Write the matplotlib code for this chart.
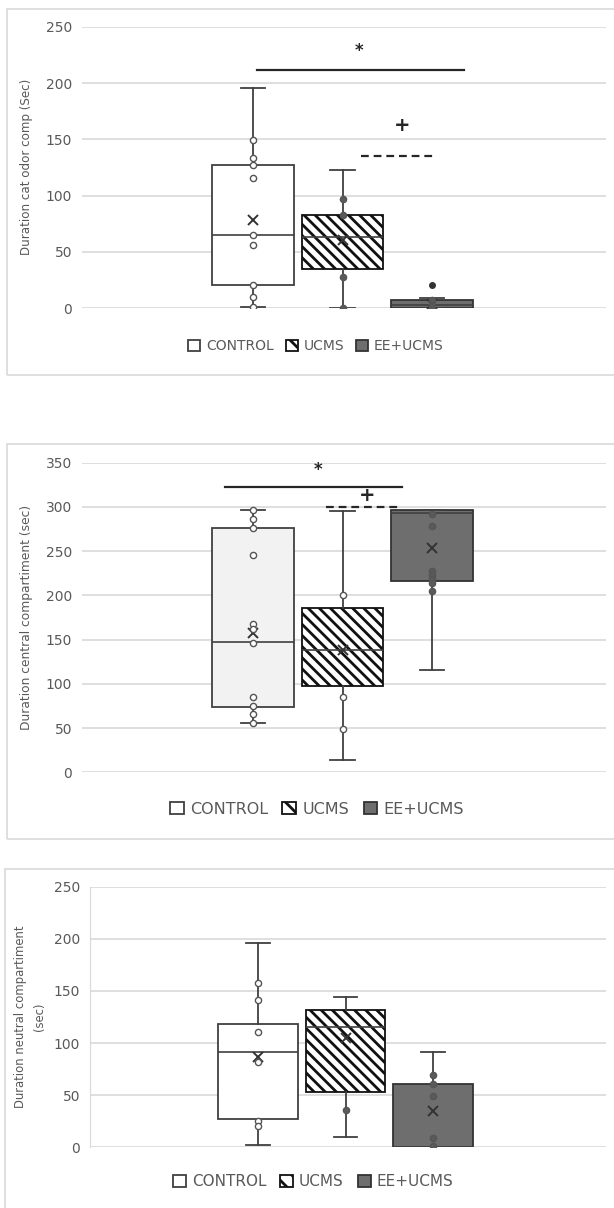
import matplotlib
matplotlib.use('Agg')
import matplotlib.pyplot as plt
from matplotlib.patches import Patch, Rectangle

plt.rcParams['font.family'] = ['DejaVu Sans']
plt.rcParams['hatch.linewidth'] = 2.0

# ---------------- data ----------------
groups = ['CONTROL', 'UCMS', 'EE+UCMS']

# Panel 1: Duration cat odor comp (Sec)
p1_whislo = [1, 0, 0]
p1_q1 = [21, 35, 0]
p1_med = [65, 63, 3]
p1_q3 = [127, 83, 7]
p1_whishi = [196, 123, 9]
p1_mean = [78, 61, 4]
p1_points = [[149, 133, 127, 116, 65, 56, 21, 10, 1], [97, 83, 28, 0], [7, 3, 0]]
p1_fliers = [[], [], [21]]

# Panel 2: Duration central compartiment (sec)
p2_whislo = [56, 14, 116]
p2_q1 = [74, 97, 216]
p2_med = [147, 138, 293]
p2_q3 = [276, 186, 296]
p2_whishi = [297, 295, 296]
p2_mean = [157, 138, 254]
p2_points = [[296, 286, 276, 246, 168, 162, 146, 85, 75, 66, 56],
             [201, 85, 49],
             [292, 279, 228, 223, 218, 214, 205]]
p2_fliers = [[], [], []]

# Panel 3: Duration neutral compartiment (sec)
p3_whislo = [2, 10, 0]
p3_q1 = [27, 53, 0]
p3_med = [91, 115, 0]
p3_q3 = [118, 132, 61]
p3_whishi = [196, 144, 91]
p3_mean = [87, 105, 35]
p3_points = [[158, 141, 111, 82, 25, 20], [36], [69, 61, 49, 9, 1]]
p3_fliers = [[], [], []]

# significance marks: (x0, x1, y, style)  and  (x, y, text)
p1_sig_lines = [(1.04, 3.36, 212, 'solid'), (2.21, 3.03, 135, 'dashed')]
p1_sig_text = [(2.18, 228, '*'), (2.67, 162, '+')]
p2_sig_lines = [(0.69, 2.67, 323, 'solid'), (1.82, 2.67, 300, 'dashed')]
p2_sig_text = [(1.73, 342, '*'), (2.28, 313, '+')]

# ---------------- styling ----------------
W, H = 614, 1208
GRID = '#d9d9d9'
TXT = '#595959'
EDGE = '#404040'
DARK = '#6e6e6e'

fig = plt.figure(figsize=(W / 100, H / 100), dpi=100)


def ax_at(x0, x1, ytop, ybot):
    return fig.add_axes([x0 / W, 1 - ybot / H, (x1 - x0) / W, (ybot - ytop) / H])


def frame(x0, y0, x1, y1):
    fig.add_artist(Rectangle((x0 / W, 1 - y1 / H), (x1 - x0) / W, (y1 - y0) / H,
                             transform=fig.transFigure, fill=False,
                             edgecolor=GRID, lw=1.2))


def panel(ax, whislo, q1, med, q3, whishi, mean, points, fliers,
          ymax, control_fill, ucms_pt_fill, xlim, left_spine=False):
    stats = []
    for i in range(3):
        stats.append(dict(whislo=whislo[i], q1=q1[i], med=med[i], q3=q3[i],
                          whishi=whishi[i], mean=mean[i], fliers=fliers[i],
                          label=groups[i]))
    pos = [1, 2, 3]
    bp = ax.bxp(stats, positions=pos, widths=0.91, capwidths=0.27,
                patch_artist=True, showmeans=True, showfliers=True,
                boxprops=dict(linewidth=1.3),
                whiskerprops=dict(color=EDGE, linewidth=1.3),
                capprops=dict(color=EDGE, linewidth=1.3),
                medianprops=dict(color=EDGE, linewidth=1.2),
                meanprops=dict(marker='x', markeredgecolor='#333333',
                               markersize=7, markeredgewidth=1.4),
                flierprops=dict(marker='o', markerfacecolor='#333333',
                                markeredgecolor='#333333', markersize=4),
                zorder=2)
    boxes = bp['boxes']
    boxes[0].set_facecolor(control_fill)
    boxes[0].set_edgecolor(EDGE)
    boxes[1].set_facecolor('white')
    boxes[1].set_edgecolor('#111111')
    boxes[1].set_hatch('\\\\\\')
    boxes[2].set_facecolor(DARK)
    boxes[2].set_edgecolor('#333333')
    fills = ['white', ucms_pt_fill, '#5a5a5a']
    for i in range(3):
        ax.scatter([pos[i]] * len(points[i]), points[i], s=20,
                   facecolor=fills[i], edgecolor='#555555', linewidth=1.0,
                   zorder=4)
    ax.set_ylim(0, ymax)
    ax.set_xlim(*xlim)
    ax.set_yticks(range(0, ymax + 1, 50))
    ax.set_xticks([])
    ax.yaxis.grid(True, color=GRID, linewidth=1.2)
    ax.set_axisbelow(True)
    for s in ['top', 'right', 'bottom', 'left']:
        ax.spines[s].set_visible(False)
    if left_spine:
        ax.spines['left'].set_visible(True)
        ax.spines['left'].set_color(GRID)
    ax.tick_params(axis='y', length=0, pad=7, labelsize=10, labelcolor=TXT)
    ax.set_facecolor('none')


def sig(ax, lines, texts):
    for x0, x1, y, st in lines:
        ls = '-' if st == 'solid' else (0, (3.5, 2.2))
        ax.plot([x0, x1], [y, y], color='#262626', lw=1.6, ls=ls,
                clip_on=False, zorder=3)
    for x, y, t in texts:
        if t == '*':
            ax.text(x, y, t, ha='center', va='center', fontsize=12,
                    fontweight='bold', color='#262626')
        else:
            ax.text(x, y, t, ha='center', va='center', fontsize=14,
                    fontweight='bold', color='#262626')


def legend(xc, yc, fs):
    handles = [Patch(facecolor='white', edgecolor=EDGE, lw=1.3),
               Patch(facecolor='white', edgecolor='#111111', hatch='\\\\', lw=1.3),
               Patch(facecolor=DARK, edgecolor='#333333', lw=1.3)]
    fig.legend(handles, groups, loc='center', bbox_to_anchor=(xc / W, 1 - yc / H),
               ncol=3, frameon=False, fontsize=fs, handlelength=0.85,
               handleheight=0.85, handletextpad=0.4, columnspacing=0.9,
               labelcolor=TXT, borderpad=0, borderaxespad=0)


def ylabel(x, y, text, fs, ls=1.2):
    fig.text(x / W, 1 - y / H, text, rotation=90, ha='center', va='center',
             fontsize=fs, color=TXT, linespacing=ls, multialignment='center')


# ---------------- panel 1 ----------------
frame(7, 9, 650, 375)
ax1 = ax_at(82, 606, 26.7, 308.3)
panel(ax1, p1_whislo, p1_q1, p1_med, p1_q3, p1_whishi, p1_mean, p1_points,
      p1_fliers, 250, 'white', '#5a5a5a', (-0.911, 4.944))
sig(ax1, p1_sig_lines, p1_sig_text)
legend(316, 346, 10)
ylabel(27, 167, 'Duration cat odor comp (Sec)', 8.6)

# ---------------- panel 2 ----------------
frame(7, 444, 650, 839)
ax2 = ax_at(82, 606, 462.7, 772.3)
panel(ax2, p2_whislo, p2_q1, p2_med, p2_q3, p2_whishi, p2_mean, p2_points,
      p2_fliers, 350, '#f2f2f2', 'white', (-0.911, 4.944))
sig(ax2, p2_sig_lines, p2_sig_text)
legend(317, 809, 11.5)
ylabel(27, 617, 'Duration central compartiment (sec)', 8.8)

# ---------------- panel 3 ----------------
frame(5, 869, 650, 1230)
ax3 = ax_at(90, 606, 886.7, 1147.3)
panel(ax3, p3_whislo, p3_q1, p3_med, p3_q3, p3_whishi, p3_mean, p3_points,
      p3_fliers, 250, 'white', '#5a5a5a', (-0.92, 4.977), left_spine=True)
legend(313, 1182, 11)
ylabel(30, 1017, 'Duration neutral compartiment\n(sec)', 8.4, ls=1.6)

fig.savefig('out.png', dpi=100)
